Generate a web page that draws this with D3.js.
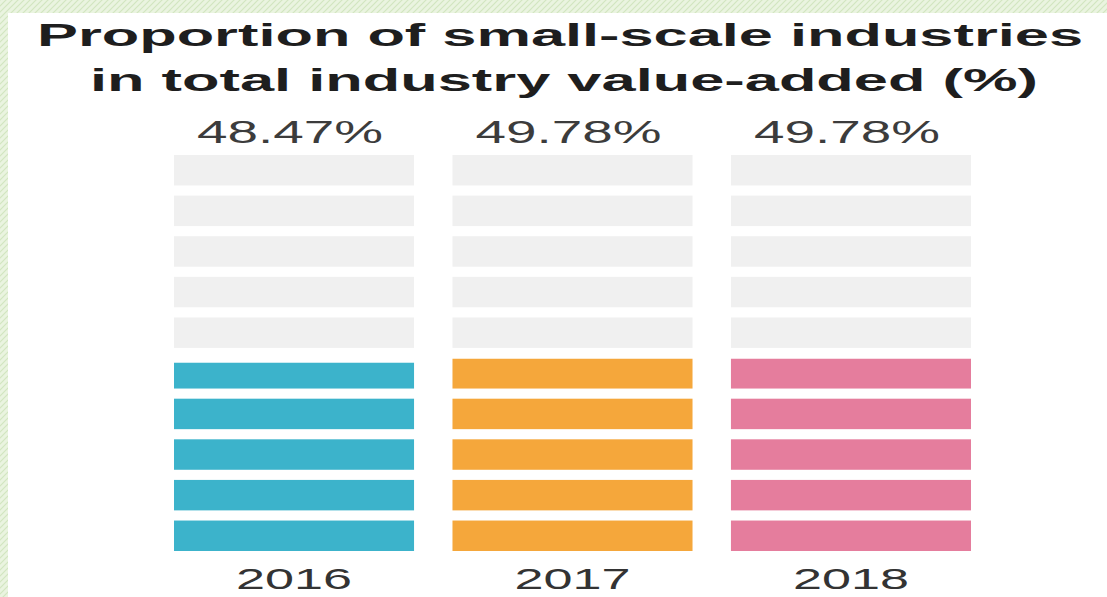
<!DOCTYPE html>
<html>
<head>
<meta charset="utf-8">
<script src="https://cdn.jsdelivr.net/npm/d3@7"></script>
<style>
  html, body { margin: 0; padding: 0; background: #ffffff; }
  svg { display: block; }
</style>
</head>
<body>
<div id="chart"></div>
<script>
const years = ['2016', '2017', '2018'];
const shares = [48.47, 49.78, 49.78];
const valueLabels = ['48.47%', '49.78%', '49.78%'];
const titleLines = ['Proportion of small-scale industries', 'in total industry value-added (%)'];
const rowCount = 10;

const translation = function(x, y) {
  return 'translate(' + x + ',' + y + ')';
};

const width = 1107;
const height = 597;
const colors = ['#3cb3cb', '#f5a73b', '#e57d9d'];

const svg = d3.select('#chart').append('svg')
  .attr('width', width)
  .attr('height', height);

// textured green frame
const defs = svg.append('defs');
const pattern = defs.append('pattern')
  .attr('id', 'frame')
  .attr('width', 6)
  .attr('height', 6)
  .attr('patternUnits', 'userSpaceOnUse');
pattern.append('rect')
  .attr('width', 6)
  .attr('height', 6)
  .attr('fill', '#eaf4e0');
pattern.append('path')
  .attr('d', 'M0,6 L6,0 M-1,1 L1,-1 M5,7 L7,5')
  .attr('stroke', '#d2e6c0')
  .attr('stroke-width', 1.2);

svg.append('rect')
  .attr('width', width)
  .attr('height', height)
  .attr('fill', 'url(#frame)');

svg.append('rect')
  .attr('x', 8)
  .attr('y', 13)
  .attr('width', width - 8)
  .attr('height', height - 13)
  .attr('fill', '#ffffff');

// title, the source is stretched sideways so lengths are fixed
const titleSpec = [
  { y: 46, cx: 560, len: 1046 },
  { y: 91, cx: 564, len: 948 },
];

svg.append('g')
  .selectAll('text')
  .data(titleLines)
  .enter().append('text')
  .attr('x', function(d, i) { return titleSpec[i].cx; })
  .attr('y', function(d, i) { return titleSpec[i].y; })
  .attr('text-anchor', 'middle')
  .attr('textLength', function(d, i) { return titleSpec[i].len; })
  .attr('lengthAdjust', 'spacingAndGlyphs')
  .style('font-family', '"Liberation Sans", Arial, sans-serif')
  .style('font-weight', 'bold')
  .style('font-size', '31px')
  .style('fill', '#1e1e1e')
  .text(function(d) { return d; });

const xScale = d3.scaleBand()
  .domain(years)
  .range([174, 971])
  .paddingInner(0.138);

// row 0 is the bottom row
const yScale = d3.scaleBand()
  .domain(d3.range(rowCount))
  .range([551, 155])
  .paddingInner(0.25);

const rowFill = function(value, row) {
  return Math.max(0, Math.min(1, value / rowCount - row));
};

const columns = svg.append('g')
  .selectAll('.column')
  .data(years)
  .enter().append('g')
  .attr('class', 'column')
  .attr('transform', function(d) { return translation(xScale(d), 0); });

columns.each(function(year, i) {
  const col = d3.select(this);
  const rows = d3.range(rowCount).map(function(r) {
    return { row: r, fill: rowFill(shares[i], r) };
  });

  col.selectAll('.bg')
    .data(rows.filter(function(d) { return d.fill === 0; }))
    .enter().append('rect')
    .attr('class', 'bg')
    .attr('x', 0)
    .attr('y', function(d) { return yScale(d.row); })
    .attr('width', xScale.bandwidth())
    .attr('height', yScale.bandwidth())
    .attr('fill', '#f0f0f0');

  col.selectAll('.cell')
    .data(rows.filter(function(d) { return d.fill > 0; }))
    .enter().append('rect')
    .attr('class', 'cell')
    .attr('x', 0)
    .attr('y', function(d) { return yScale(d.row) + yScale.bandwidth() * (1 - d.fill); })
    .attr('width', xScale.bandwidth())
    .attr('height', function(d) { return yScale.bandwidth() * d.fill; })
    .attr('fill', colors[i]);
});

// value labels on top
svg.append('g')
  .selectAll('text')
  .data(valueLabels)
  .enter().append('text')
  .attr('x', function(d, i) { return xScale(years[i]) + xScale.bandwidth() / 2 - 4; })
  .attr('y', 143)
  .attr('text-anchor', 'middle')
  .attr('textLength', 186)
  .attr('lengthAdjust', 'spacingAndGlyphs')
  .style('font-family', '"Liberation Sans", Arial, sans-serif')
  .style('font-size', '32px')
  .style('fill', '#3c3c3c')
  .text(function(d) { return d; });

// year labels below
const xAxis = d3.axisBottom(xScale)
  .tickSize(0)
  .tickPadding(0);

const axisG = svg.append('g')
  .attr('transform', translation(0, 568))
  .call(xAxis);

axisG.select('.domain').remove();
axisG.selectAll('text')
  .attr('dy', null)
  .attr('y', 21)
  .attr('textLength', 116)
  .attr('lengthAdjust', 'spacingAndGlyphs')
  .style('font-family', '"Liberation Sans", Arial, sans-serif')
  .style('font-size', '30px')
  .style('fill', '#333333');
</script>
</body>
</html>
